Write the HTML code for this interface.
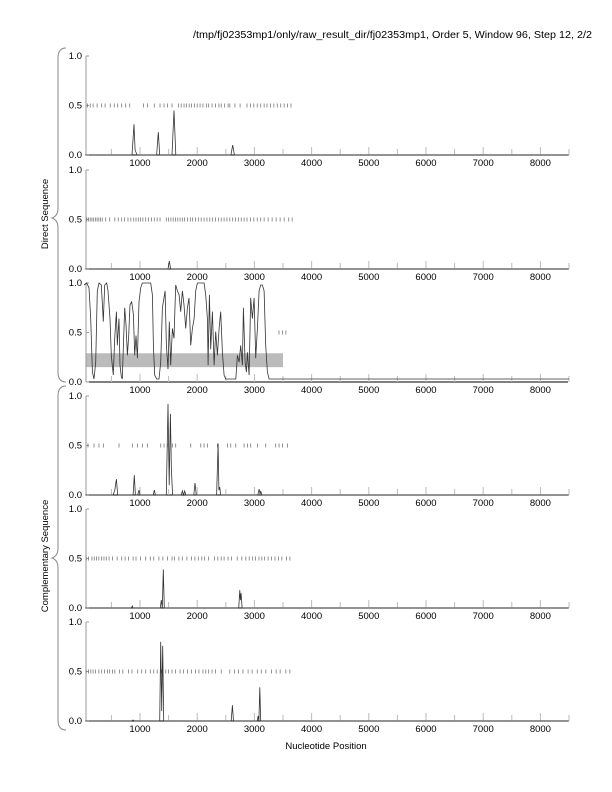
<!DOCTYPE html>
<html><head><meta charset="utf-8"><style>
body{margin:0;background:#fff;}
svg{display:block;font-family:"Liberation Sans",sans-serif;}
</style></head><body>
<svg id="c" width="612" height="792" viewBox="0 0 612 792">
<text x="592" y="38" font-size="10" text-anchor="end" textLength="399" lengthAdjust="spacingAndGlyphs">/tmp/fj02353mp1/only/raw_result_dir/fj02353mp1, Order 5, Window 96, Step 12, 2/2</text>
<path d="M66,48 Q58,48 58,58 L58,208 Q58,216 52,218 Q58,220 58,228 L58,372 Q58,382 66,382" fill="none" stroke="#888" stroke-width="1"/>
<text transform="translate(48,214) rotate(-90)" font-size="9.5" text-anchor="middle">Direct Sequence</text>
<path d="M66,386 Q58,386 58,396 L58,548 Q58,556 52,558 Q58,560 58,568 L58,720 Q58,730 66,730" fill="none" stroke="#888" stroke-width="1"/>
<text transform="translate(48,556) rotate(-90)" font-size="9.5" text-anchor="middle">Complementary Sequence</text>
<text x="326" y="749" font-size="9.5" text-anchor="middle">Nucleotide Position</text>
</svg>
<script>
const xTicks=[1000,2000,3000,4000,5000,6000,7000,8000];
const yTickLabels=["1.0","0.5","0.0"];
const yTickValues=[1,0.5,0];
const p1Pos=[40,860,895,915,950,1290,1320,1345,1560,1594,1625,2590,2620,2650,2700,8500];
const p1Val=[0,0,0.31,0.05,0,0,0.23,0,0,0.45,0,0,0.1,0,0,0];
const p2Pos=[40,1490,1513,1535,8500];
const p2Val=[0,0,0.08,0,0];
const p3Pos=[21,68,108,138,167,196,225,254,283,324,342,359,382,417,441,476,499,534,557,587,604,633,651,674,691,709,732,756,779,802,826,855,884,907,930,954,983,1012,1041,1129,1187,1216,1234,1257,1292,1333,1362,1391,1420,1438,1461,1490,1513,1537,1566,1595,1624,1653,1683,1712,1741,1770,1799,1828,1857,1887,1916,1945,1974,2003,2062,2120,2149,2178,2190,2213,2236,2266,2295,2324,2353,2382,2411,2440,2470,2499,2586,2674,2703,2732,2761,2790,2808,2837,2860,2878,2907,2936,2965,2994,3023,3053,3082,3111,3140,3169,3198,3228,3257,3315,3360,8500];
const p3Val=[0.98,1.0,0.95,0.64,0.10,0.03,0.20,0.92,1.0,0.98,0.78,0.61,0.98,1.0,0.92,0.64,0.27,0.07,0.44,0.71,0.37,0.64,0.17,0.05,0.03,0.37,0.75,0.58,0.27,0.47,0.78,0.81,0.68,0.27,0.47,0.24,0.81,0.95,1.0,1.0,1.0,0.88,0.37,0.07,0.03,0.03,0.20,0.75,0.85,0.92,0.37,0.13,0.61,0.17,0.54,0.44,0.98,0.92,0.88,0.71,0.92,0.78,0.54,0.75,0.85,0.37,0.54,0.64,0.92,1.0,1.0,1.0,0.88,0.64,0.17,0.88,0.33,0.71,0.17,0.51,0.27,0.54,0.71,0.30,0.07,0.03,0.03,0.03,0.27,0.20,0.37,0.17,0.75,0.20,0.10,0.30,0.07,0.85,0.64,0.85,0.24,0.54,0.92,0.98,0.98,0.92,0.37,0.10,0.03,0.03,0.03,0.03];
const p4Pos=[40,530,560,587,610,880,901,920,960,983,1000,1230,1251,1270,1460,1490,1510,1531,1549,1570,1720,1741,1760,1782,1800,1940,1962,1985,2340,2365,2380,2394,2410,3060,3082,3100,3111,3130,8500];
const p4Val=[0,0,0.05,0.16,0,0,0.2,0,0,0.05,0,0,0.05,0,0,0.92,0.1,0.82,0.25,0,0,0.04,0,0.04,0,0,0.12,0,0,0.52,0.05,0.08,0,0,0.06,0.01,0.04,0,0];
const p5Pos=[40,850,866,880,1355,1373,1390,1408,1425,2725,2744,2755,2767,2785,8500];
const p5Val=[0,0,0.02,0,0,0.08,0,0.39,0,0,0.18,0.08,0.15,0,0];
const p6Pos=[40,860,878,895,1345,1362,1380,1397,1415,2595,2615,2635,3050,3064,3078,3094,3110,8500];
const p6Val=[0,0,0.01,0,0,0.8,0.1,0.76,0,0,0.16,0,0,0.05,0,0.34,0,0];
const p1Hits=[80,130,180,250,330,390,480,550,610,680,750,820,1060,1130,1250,1350,1420,1480,1560,1670,1720,1770,1810,1860,1900,1950,2000,2050,2100,2160,2200,2260,2320,2380,2420,2480,2540,2570,2660,2750,2870,2930,2990,3050,3110,3170,3220,3280,3340,3400,3460,3520,3580,3640];
const p2Hits=[70,100,130,160,190,220,250,280,310,340,400,470,560,620,680,730,790,840,890,930,970,1010,1050,1100,1150,1200,1250,1300,1350,1460,1500,1540,1580,1620,1660,1700,1740,1780,1830,1880,1920,1970,2020,2070,2120,2170,2220,2270,2320,2370,2420,2470,2520,2570,2620,2670,2720,2770,2820,2870,2930,2990,3050,3110,3170,3240,3310,3380,3450,3520,3600,3660];
const p3Hits=[3430,3490,3550];
const p4Hits=[90,196,283,359,633,866,954,1041,1129,1362,1420,1478,1566,1624,1887,2062,2120,2178,2353,2528,2586,2674,2820,2878,2936,3053,3198,3373,3431,3490,3577];
const p5Hits=[60,100,160,200,240,280,330,370,410,460,520,600,680,740,800,880,930,1010,1100,1180,1240,1330,1400,1480,1560,1600,1680,1740,1820,1900,1960,2020,2080,2130,2200,2300,2360,2420,2470,2540,2600,2700,2780,2850,2910,2970,3020,3080,3130,3180,3240,3300,3360,3420,3480,3560,3620];
const p6Hits=[60,100,140,180,220,280,330,380,430,470,520,560,640,700,800,860,960,1030,1100,1180,1240,1300,1380,1450,1500,1560,1620,1700,1760,1830,1900,1970,2030,2100,2150,2200,2260,2320,2420,2570,2650,2720,2800,2890,2960,3050,3120,3200,3300,3380,3450,3550,3620];

const svg=document.getElementById('c');
const NS='http://www.w3.org/2000/svg';
const X0=86,X1=568,H=99;
const tops=[56,170,283,396,509,622];
const xs=nt=>82.8+nt*0.0572;
function mk(tag,attrs,parent){const e=document.createElementNS(NS,tag);for(const k in attrs)e.setAttribute(k,attrs[k]);(parent||svg).appendChild(e);return e;}
const series=[[p1Pos,p1Val,p1Hits],[p2Pos,p2Val,p2Hits],[p3Pos,p3Val,p3Hits],[p4Pos,p4Val,p4Hits],[p5Pos,p5Val,p5Hits],[p6Pos,p6Val,p6Hits]];
series.forEach((s,i)=>{
  const top=tops[i];const ys=v=>top+H-v*H;
  const g=mk('g',{});
  
  
  if(i===2){
    const band=mk('rect',{x:X0,y:ys(0.29),width:xs(3500)-X0,height:ys(0.15)-ys(0.29),fill:'#bbb'},g);
    
    
  }
  const ax=mk('line',{x1:X0,y1:top,x2:X0,y2:top+H,stroke:'#999','stroke-width':1},g);
  
  
  const bx=mk('line',{x1:X0,y1:top+H,x2:X1,y2:top+H,stroke:'#000','stroke-width':1},g);
  
  
  yTickValues.forEach((v,j)=>{
    const t=mk('text',{x:82,y:ys(v)+3,'font-size':9.5,'text-anchor':'end'},g);
    t.textContent=yTickLabels[j];
    
    
    mk('line',{x1:X0,y1:ys(v),x2:X0+3,y2:ys(v),stroke:'#999'},g);
  });
  for(let n=500;n<=8500;n+=500){
    const tk=mk('line',{x1:xs(n),y1:top+H,x2:xs(n),y2:top+H-(n%1000===0?8:6),stroke:'#bbb'},g);
    
    
  }
  xTicks.forEach(n=>{
    const t=mk('text',{x:xs(n),y:top+H+11,'font-size':9.5,'text-anchor':'middle'},g);
    t.textContent=n;
    
    
  });
  s[2].forEach(n=>{
    const h=mk('line',{x1:xs(n),y1:ys(0.5)-2,x2:xs(n),y2:ys(0.5)+2,stroke:'#777','stroke-width':0.8},g);
    
    
  });
  let d='';
  s[0].forEach((n,k)=>{const p=Math.min(s[1][k],1);d+=(k?'L':'M')+xs(n).toFixed(1)+','+ys(p).toFixed(1);});
  const ln=mk('path',{d:d,fill:'none',stroke:'#333','stroke-width':0.8},g);
  
  
});
</script>
</body></html>
